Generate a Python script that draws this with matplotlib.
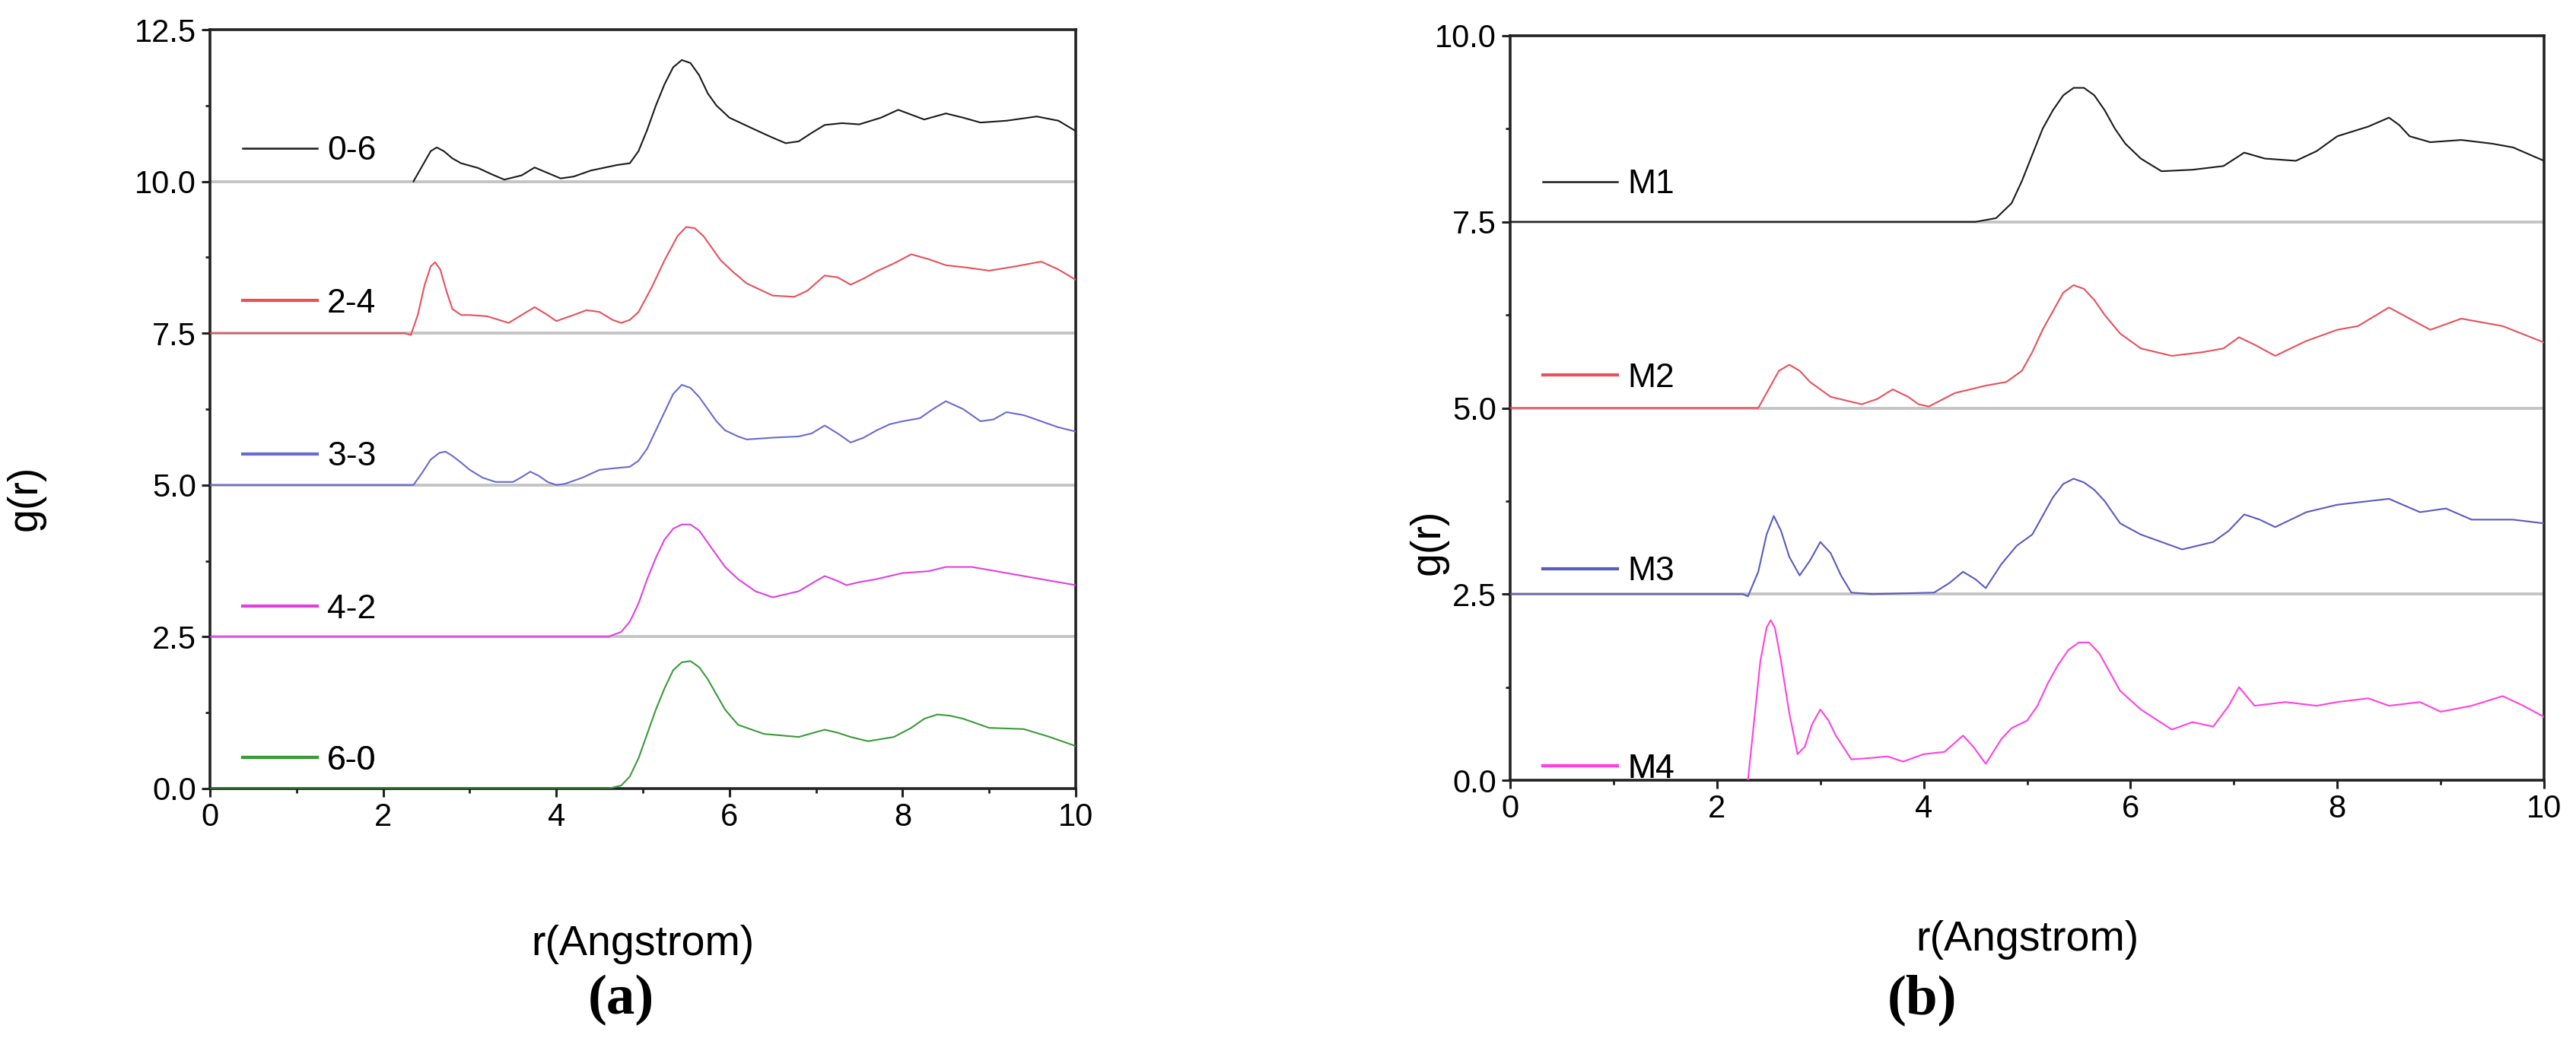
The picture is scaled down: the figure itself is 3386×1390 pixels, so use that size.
import numpy as np
import matplotlib
matplotlib.use("Agg")
import matplotlib.pyplot as plt
from matplotlib.lines import Line2D
from matplotlib.ticker import MultipleLocator

plt.rcParams['font.family'] = ['Liberation Sans', 'DejaVu Sans']

# ---------------- data (panel a) ----------------
labels_a = ["0-6", "2-4", "3-3", "4-2", "6-0"]
offsets_a = [10.0, 7.5, 5.0, 2.5, 0.0]
colors_a = ["#1a1a1a", "#e8505a", "#6a6ad0", "#e040e0", "#3a9a3a"]

r_06 = [2.35, 2.45, 2.55, 2.62, 2.7, 2.8, 2.9, 3.1, 3.25, 3.4, 3.6, 3.75, 3.9, 4.05, 4.2, 4.4, 4.7, 4.85, 4.95, 5.05, 5.15, 5.25, 5.35, 5.45, 5.55, 5.65, 5.75, 5.85, 6.0, 6.3, 6.5, 6.65, 6.8, 6.95, 7.1, 7.3, 7.5, 7.75, 7.95, 8.1, 8.25, 8.5, 8.7, 8.9, 9.2, 9.55, 9.8, 10.0]
g_06 = [0.0, 0.25, 0.5, 0.56, 0.5, 0.38, 0.3, 0.22, 0.12, 0.03, 0.1, 0.23, 0.14, 0.05, 0.08, 0.18, 0.27, 0.3, 0.5, 0.85, 1.25, 1.6, 1.88, 2.0, 1.95, 1.75, 1.45, 1.25, 1.05, 0.85, 0.72, 0.63, 0.66, 0.8, 0.93, 0.96, 0.94, 1.05, 1.18, 1.1, 1.02, 1.12, 1.05, 0.97, 1.0, 1.07, 1.0, 0.83]

r_24 = [0.0, 2.25, 2.32, 2.4, 2.48, 2.55, 2.6, 2.66, 2.73, 2.8, 2.9, 3.0, 3.2, 3.45, 3.6, 3.75, 3.9, 4.0, 4.2, 4.35, 4.5, 4.65, 4.75, 4.85, 4.95, 5.1, 5.25, 5.4, 5.5, 5.6, 5.7, 5.8, 5.9, 6.05, 6.2, 6.5, 6.75, 6.9, 7.1, 7.25, 7.4, 7.55, 7.7, 7.9, 8.1, 8.3, 8.5, 8.75, 9.0, 9.3, 9.6, 9.8, 10.0]
g_24 = [0.0, 0.0, -0.03, 0.3, 0.8, 1.1, 1.17, 1.05, 0.7, 0.4, 0.3, 0.3, 0.28, 0.17, 0.3, 0.43, 0.3, 0.2, 0.3, 0.38, 0.35, 0.22, 0.17, 0.22, 0.35, 0.75, 1.2, 1.6, 1.75, 1.73, 1.6, 1.4, 1.2, 1.0, 0.82, 0.62, 0.6, 0.7, 0.95, 0.92, 0.8, 0.9, 1.02, 1.15, 1.3, 1.22, 1.12, 1.08, 1.03, 1.1, 1.18, 1.05, 0.88]

r_33 = [0.0, 2.35, 2.45, 2.55, 2.65, 2.72, 2.8, 2.9, 3.0, 3.15, 3.3, 3.5, 3.6, 3.7, 3.8, 3.9, 4.0, 4.1, 4.3, 4.5, 4.7, 4.85, 4.95, 5.05, 5.15, 5.25, 5.35, 5.45, 5.55, 5.65, 5.75, 5.85, 5.95, 6.1, 6.2, 6.5, 6.8, 6.95, 7.1, 7.25, 7.4, 7.55, 7.7, 7.85, 8.0, 8.2, 8.35, 8.5, 8.7, 8.9, 9.05, 9.2, 9.4, 9.6, 9.8, 10.0]
g_33 = [0.0, 0.0, 0.2, 0.42, 0.53, 0.55, 0.48, 0.37, 0.25, 0.12, 0.05, 0.05, 0.13, 0.22, 0.15, 0.05, 0.0, 0.02, 0.12, 0.25, 0.28, 0.3, 0.4, 0.6, 0.9, 1.2, 1.5, 1.65, 1.6, 1.45, 1.25, 1.05, 0.9, 0.8, 0.75, 0.78, 0.8, 0.85, 0.98, 0.85, 0.7, 0.78, 0.9, 1.0, 1.05, 1.1, 1.25, 1.38, 1.25, 1.05, 1.08, 1.2, 1.15, 1.05, 0.95, 0.88]

r_42 = [0.0, 4.6, 4.75, 4.85, 4.95, 5.05, 5.15, 5.25, 5.35, 5.45, 5.55, 5.65, 5.75, 5.85, 5.95, 6.1, 6.3, 6.5, 6.8, 7.0, 7.1, 7.25, 7.35, 7.5, 7.7, 8.0, 8.3, 8.5, 8.8, 9.0, 9.2, 9.6, 10.0]
g_42 = [0.0, 0.0, 0.08, 0.25, 0.55, 0.95, 1.3, 1.6, 1.78, 1.85, 1.85, 1.75, 1.55, 1.35, 1.15, 0.95, 0.75, 0.65, 0.75, 0.92, 1.0, 0.92, 0.85, 0.9, 0.95, 1.05, 1.08, 1.15, 1.15, 1.1, 1.05, 0.95, 0.85]

r_60 = [0.0, 4.6, 4.75, 4.85, 4.95, 5.05, 5.15, 5.25, 5.35, 5.45, 5.55, 5.65, 5.75, 5.85, 5.95, 6.1, 6.4, 6.8, 7.0, 7.1, 7.25, 7.4, 7.6, 7.9, 8.1, 8.25, 8.4, 8.55, 8.7, 9.0, 9.4, 9.7, 10.0]
g_60 = [0.0, 0.0, 0.05, 0.2, 0.5, 0.9, 1.3, 1.65, 1.95, 2.08, 2.1, 2.0, 1.8, 1.55, 1.3, 1.05, 0.9, 0.85, 0.93, 0.97, 0.92, 0.85, 0.78, 0.85, 1.0, 1.15, 1.22, 1.2, 1.15, 1.0, 0.98, 0.85, 0.7]

# ---------------- data (panel b) ----------------
labels_b = ["M1", "M2", "M3", "M4"]
offsets_b = [7.5, 5.0, 2.5, 0.0]
colors_b = ["#1a1a1a", "#e8505a", "#5a5ac0", "#ff40e0"]

r_m1 = [0.0, 4.5, 4.7, 4.85, 4.95, 5.05, 5.15, 5.25, 5.35, 5.45, 5.55, 5.65, 5.75, 5.85, 5.95, 6.1, 6.3, 6.6, 6.9, 7.1, 7.3, 7.6, 7.8, 8.0, 8.3, 8.5, 8.6, 8.7, 8.9, 9.2, 9.5, 9.7, 10.0]
g_m1 = [0.0, 0.0, 0.05, 0.25, 0.55, 0.9, 1.25, 1.5, 1.7, 1.8, 1.8, 1.7, 1.5, 1.25, 1.05, 0.85, 0.68, 0.7, 0.75, 0.93, 0.85, 0.82, 0.95, 1.15, 1.28, 1.4, 1.3, 1.15, 1.07, 1.1, 1.05, 1.0, 0.82]

r_m2 = [0.0, 2.4, 2.5, 2.6, 2.7, 2.8, 2.9, 3.1, 3.4, 3.55, 3.7, 3.85, 3.95, 4.05, 4.3, 4.6, 4.8, 4.95, 5.05, 5.15, 5.25, 5.35, 5.45, 5.55, 5.65, 5.75, 5.9, 6.1, 6.4, 6.7, 6.9, 7.05, 7.2, 7.4, 7.7, 8.0, 8.2, 8.5, 8.7, 8.9, 9.2, 9.6, 10.0]
g_m2 = [0.0, 0.0, 0.25, 0.5, 0.58, 0.5, 0.35, 0.15, 0.05, 0.12, 0.25, 0.15, 0.05, 0.02, 0.2, 0.3, 0.35, 0.5, 0.75, 1.05, 1.3, 1.55, 1.65, 1.6, 1.45, 1.25, 1.0, 0.8, 0.7, 0.75, 0.8, 0.95, 0.85, 0.7, 0.9, 1.05, 1.1, 1.35, 1.2, 1.05, 1.2, 1.1, 0.88]

r_m3 = [0.0, 2.25, 2.3, 2.4, 2.48, 2.55, 2.62, 2.7, 2.8, 2.9, 3.0, 3.1, 3.2, 3.3, 3.5, 4.1, 4.25, 4.38, 4.5, 4.6, 4.75, 4.9, 5.05, 5.15, 5.25, 5.35, 5.45, 5.55, 5.65, 5.75, 5.9, 6.1, 6.3, 6.5, 6.8, 6.95, 7.1, 7.25, 7.4, 7.7, 8.0, 8.5, 8.8, 9.05, 9.3, 9.7, 10.0]
g_m3 = [0.0, 0.0, -0.03, 0.3, 0.8, 1.05, 0.85, 0.5, 0.25, 0.45, 0.7, 0.55, 0.25, 0.02, 0.0, 0.02, 0.15, 0.3, 0.2, 0.08, 0.4, 0.65, 0.8, 1.05, 1.3, 1.48, 1.55, 1.5, 1.4, 1.25, 0.95, 0.8, 0.7, 0.6, 0.7, 0.85, 1.07, 1.0, 0.9, 1.1, 1.2, 1.28, 1.1, 1.15, 1.0, 1.0, 0.95]

r_m4 = [2.3, 2.36, 2.42, 2.48, 2.52, 2.56, 2.62, 2.7, 2.78, 2.85, 2.92, 3.0, 3.08, 3.15, 3.3, 3.5, 3.65, 3.8, 4.0, 4.2, 4.3, 4.38, 4.48, 4.6, 4.75, 4.85, 5.0, 5.1, 5.2, 5.3, 5.4, 5.5, 5.6, 5.7, 5.8, 5.9, 6.1, 6.4, 6.6, 6.8, 6.95, 7.05, 7.2, 7.5, 7.8, 8.0, 8.3, 8.5, 8.8, 9.0, 9.3, 9.6, 9.8, 10.0]
g_m4 = [0.0, 0.8, 1.6, 2.05, 2.15, 2.05, 1.6, 0.9, 0.35, 0.45, 0.75, 0.95, 0.8, 0.6, 0.28, 0.3, 0.32, 0.25, 0.35, 0.38, 0.5, 0.6, 0.45, 0.22, 0.55, 0.7, 0.8, 1.0, 1.3, 1.55, 1.75, 1.85, 1.85, 1.7, 1.45, 1.2, 0.95, 0.68, 0.78, 0.72, 1.0, 1.25, 1.0, 1.05, 1.0, 1.05, 1.1, 1.0, 1.05, 0.92, 1.0, 1.13, 1.0, 0.85]

series_a = [(r_06, g_06), (r_24, g_24), (r_33, g_33), (r_42, g_42), (r_60, g_60)]
series_b = [(r_m1, g_m1), (r_m2, g_m2), (r_m3, g_m3), (r_m4, g_m4)]

W, H = 3387, 1390
fig = plt.figure(figsize=(W / 100, H / 100), dpi=100)

TICK_FS, LABEL_FS, LEG_FS = 30, 40, 32


def px_axes(x0, y0, x1, y1):
    return fig.add_axes([x0 / W, 1 - y1 / H, (x1 - x0) / W, (y1 - y0) / H])


def style(ax, ymax, yticks):
    ax.set_xlim(0, 10)
    ax.set_ylim(0, ymax)
    ax.set_xticks([0, 2, 4, 6, 8, 10])
    ax.xaxis.set_minor_locator(MultipleLocator(1))
    ax.set_yticks(yticks)
    ax.set_yticklabels([f"{v:.1f}" for v in yticks])
    ax.yaxis.set_minor_locator(MultipleLocator(1.25))
    for s in ax.spines.values():
        s.set_linewidth(2.6)
        s.set_color("#222222")
    ax.tick_params(which="major", direction="out", length=8, width=2.2,
                   labelsize=TICK_FS, pad=5, color="#222222")
    ax.tick_params(which="minor", direction="out", length=4.5, width=2.0,
                   color="#222222")
    ax.tick_params(top=False, right=False, which="both")


def draw_panel(ax, series, offsets, colors, labels, leg_x, leg_y):
    for off in offsets[:-1]:
        ax.axhline(off, color="#c4c4c4", lw=2.8, zorder=1)
    for (r, g), off, c in zip(series, offsets, colors):
        ax.plot(r, np.asarray(g) + off, color=c, lw=1.5, zorder=3,
                solid_joinstyle="round")
    for lab, c, yy in zip(labels, colors, leg_y):
        h = Line2D([], [], color=c, lw=1.8 if c == "#1a1a1a" else 3.0)
        leg = ax.legend([h], [lab], loc="center left", bbox_to_anchor=(leg_x, yy),
                        frameon=False, fontsize=LEG_FS, handlelength=2.2,
                        handletextpad=0.3, borderaxespad=0.0, borderpad=0.2)
        ax.add_artist(leg)


# panel (a)
axa = px_axes(276, 39, 1414, 1037)
style(axa, 12.5, [0.0, 2.5, 5.0, 7.5, 10.0, 12.5])
draw_panel(axa, series_a, offsets_a, colors_a, labels_a, 0.03,
           [0.84, 0.639, 0.437, 0.236, 0.037])
fig.text((276 + 1414) / 2 / W, 1 - 1242 / H, "r(Angstrom)", fontsize=LABEL_FS,
         ha="center", va="center")
fig.text(34 / W, 1 - 655 / H, "g(r)", rotation=90, fontsize=LABEL_FS,
         ha="center", va="center")

# panel (b)
axb = px_axes(1985, 47, 3344, 1026)
style(axb, 10.0, [0.0, 2.5, 5.0, 7.5, 10.0])
draw_panel(axb, series_b, offsets_b, colors_b, labels_b, 0.025,
           [0.80, 0.54, 0.28, 0.015])
fig.text((1985 + 3344) / 2 / W, 1 - 1236 / H, "r(Angstrom)", fontsize=LABEL_FS,
         ha="center", va="center")
fig.text(1878 / W, 1 - 713 / H, "g(r)", rotation=90, fontsize=LABEL_FS,
         ha="center", va="center")

for xx, txt in [(816, "(a)"), (2527, "(b)")]:
    fig.text(xx / W, 1 - 1315 / H, txt, fontsize=54, ha="center", va="center",
             family=["Liberation Serif", "DejaVu Serif"], fontweight="bold")

fig.savefig("out.png", dpi=100, facecolor="white")
